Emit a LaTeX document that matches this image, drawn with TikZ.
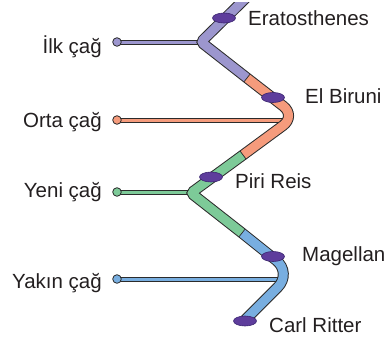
\documentclass[tikz,border=0pt]{standalone}
\usepackage{fontspec}
\setmainfont{Liberation Sans}
\usetikzlibrary{shapes.geometric}
\definecolor{cpur}{HTML}{9C96CE}
\definecolor{cora}{HTML}{F59B7C}
\definecolor{cgre}{HTML}{7DCA98}
\definecolor{cblu}{HTML}{78AEE0}
\definecolor{epur}{HTML}{5E3D9C}
\definecolor{edark}{HTML}{3A2470}
\definecolor{outl}{HTML}{2B2B2B}
\definecolor{txt}{HTML}{231F20}
\begin{document}
\begin{tikzpicture}[x=1pt,y=-1pt,
  lbl/.style={inner sep=0pt, font=\fontsize{20.5}{24}\selectfont, text=txt},
  bandout/.style={line width=11pt, draw=outl, line cap=butt, line join=miter},
  bandin/.style={line width=9pt, line cap=butt, line join=miter},
  barout/.style={line width=5pt, draw=outl, line cap=butt},
  barin/.style={line width=3pt, line cap=butt},
  dotst/.style={circle, draw=outl, line width=0.8pt, minimum size=8.6pt, inner sep=0pt},
  person/.style={ellipse, fill=epur, draw=edark, line width=0.6pt, minimum width=23pt, minimum height=10pt, inner sep=0pt},
  sepl/.style={line width=0.7pt, draw=outl}]
\useasboundingbox (0,0) rectangle (388,340);
% band geometry
\coordinate (t0) at (250,-6);
\coordinate (v1) at (201,42);
\coordinate (c1) at (247,78);
\coordinate (v2) at (296,116);
\coordinate (c2) at (243,155);
\coordinate (v3) at (191,193);
\coordinate (c3) at (242,233);
\coordinate (v4) at (292,273);
\coordinate (t1) at (245,320);
% era bars
\coordinate (p1) at (117,42);
\coordinate (p2) at (117,120);
\coordinate (p3) at (117,192);
\coordinate (p4) at (117,279);
\coordinate (a1) at (201,42);
\coordinate (a2) at (290,120);
\coordinate (a3) at (192,192);
\coordinate (a4) at (284,279);
\draw[barout] (p1) -- (a1); \draw[barin, draw=cpur] (p1) -- (a1);
\draw[barout] (p2) -- (a2); \draw[barin, draw=cora] (p2) -- (a2);
\draw[barout] (p3) -- (a3); \draw[barin, draw=cgre] (p3) -- (a3);
\draw[barout] (p4) -- (a4); \draw[barin, draw=cblu] (p4) -- (a4);
\node[dotst, fill=cpur] (dot1) at (p1) {};
\node[dotst, fill=cora] (dot2) at (p2) {};
\node[dotst, fill=cgre] (dot3) at (p3) {};
\node[dotst, fill=cblu] (dot4) at (p4) {};
% band
\begin{scope}
\clip (0,2) rectangle (388,340);
\draw[bandout, rounded corners=3pt] (t0) -- (v1) -- (c1);
\draw[bandout, rounded corners=16pt] (c1) -- (v2) -- (c2);
\draw[bandout, rounded corners=3pt] (c2) -- (v3) -- (c3);
\draw[bandout, rounded corners=20pt] (c3) -- (v4) -- (t1);
\draw[bandin, draw=cpur, rounded corners=3pt] (t0) -- (v1) -- (c1);
\draw[bandin, draw=cora, rounded corners=16pt] (c1) -- (v2) -- (c2);
\draw[bandin, draw=cgre, rounded corners=3pt] (c2) -- (v3) -- (c3);
\draw[bandin, draw=cblu, rounded corners=20pt] (c3) -- (v4) -- (t1);
\end{scope}
\draw[sepl] (c1) +(-3.1,3.9) -- +(3.1,-3.9);
\draw[sepl] (c2) +(-3.0,-4.0) -- +(3.0,4.0);
\draw[sepl] (c3) +(-3.1,3.9) -- +(3.1,-3.9);
% persons
\node[person] (era) at (224,18) {};
\node[person] (bir) at (273,97.5) {};
\node[person] (pir) at (211,177) {};
\node[person] (mag) at (273,256.5) {};
\node[person] (rit) at (245,321) {};
% labels
\node[lbl, anchor=base west] (lera) at (248,25) {Eratosthenes};
\node[lbl, anchor=base west] (lbir) at (305,103) {El Biruni};
\node[lbl, anchor=base west] (lpir) at (235,188) {Piri Reis};
\node[lbl, anchor=base west] (lmag) at (302,261) {Magellan};
\node[lbl, anchor=base west] (lrit) at (269,332) {Carl Ritter};
\node[lbl, anchor=base east] (e1) at (102,53) {İlk çağ};
\node[lbl, anchor=base east] (e2) at (102,127) {Orta çağ};
\node[lbl, anchor=base east] (e3) at (102,197) {Yeni çağ};
\node[lbl, anchor=base east] (e4) at (102,288) {Yakın çağ};
\end{tikzpicture}
\end{document}
